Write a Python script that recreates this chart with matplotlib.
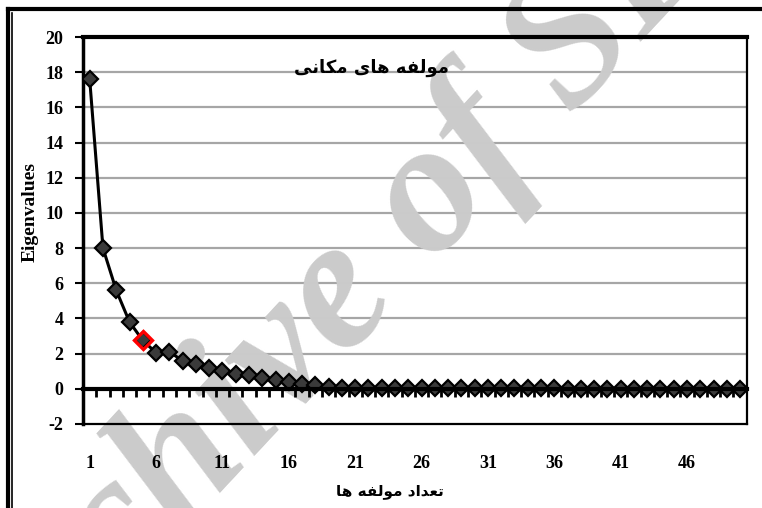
#!/usr/bin/env python3
"""
Scree plot of spatial components (eigenvalues per component)
"""

import matplotlib
matplotlib.use('Agg')
import matplotlib.pyplot as plt
from matplotlib.lines import Line2D

# Data
components = list(range(1, 51))
eigenvalues = [17.6, 8.0, 5.6, 3.8, 2.75, 2.05, 2.1, 1.6, 1.42, 1.17,
               1.04, 0.82, 0.76, 0.6, 0.48, 0.4, 0.3, 0.2, 0.12, 0.07,
               0.04, 0.03, 0.03, 0.03, 0.03, 0.02, 0.02, 0.02, 0.02, 0.02,
               0.02, 0.02, 0.02, 0.02, 0.02, 0.02, 0.01, 0.01, 0.01, 0.01,
               0.01, 0.01, 0.01, 0.01, 0.01, 0.01, 0.01, 0.01, 0.01, 0.01]
highlight = 5  # cut-off component shown in red
x_ticks = list(range(1, 50, 5))
y_ticks = list(range(-2, 21, 2))

title_text = "مولفه های مکانی"
xlabel_text = "تعداد مولفه ها"
ylabel_text = "Eigenvalues"
watermark_text = "Archive of SID"

# Arabic shaping (matplotlib has no text shaping of its own)
FORMS = {
    'ا': ('\uFE8D', '\uFE8E'), 'د': ('\uFEA9', '\uFEAA'), 'و': ('\uFEED', '\uFEEE'),
    'ت': ('\uFE95', '\uFE96', '\uFE97', '\uFE98'),
    'ع': ('\uFEC9', '\uFECA', '\uFECB', '\uFECC'),
    'م': ('\uFEE1', '\uFEE2', '\uFEE3', '\uFEE4'),
    'ل': ('\uFEDD', '\uFEDE', '\uFEDF', '\uFEE0'),
    'ف': ('\uFED1', '\uFED2', '\uFED3', '\uFED4'),
    'ه': ('\uFEE9', '\uFEEA', '\uFEEB', '\uFEEC'),
    'ن': ('\uFEE5', '\uFEE6', '\uFEE7', '\uFEE8'),
    'ی': ('\uFBFC', '\uFBFD', '\uFBFE', '\uFBFF'),
    'ک': ('\uFB8E', '\uFB8F', '\uFB90', '\uFB91'),
}


def shape(text):
    out = []
    for i, ch in enumerate(text):
        if ch not in FORMS:
            out.append(ch)
            continue
        prev = text[i - 1] if i > 0 else ''
        nxt = text[i + 1] if i + 1 < len(text) else ''
        join_prev = prev in FORMS and len(FORMS[prev]) == 4
        join_next = len(FORMS[ch]) == 4 and nxt in FORMS
        f = FORMS[ch]
        if join_prev and join_next:
            out.append(f[3])
        elif join_prev:
            out.append(f[1])
        elif join_next:
            out.append(f[2])
        else:
            out.append(f[0])
    return ''.join(out)[::-1]


fig = plt.figure(figsize=(7.62, 5.08), dpi=100)
ax = fig.add_axes([0.109, 0.1654, 0.871, 0.7616])

serif = 'Liberation Serif'

# grid
for y in y_ticks:
    if y not in (-2, 0, 20):
        ax.axhline(y, color='#a6a6a6', lw=1.6, zorder=0)

# watermark
ax.text(0.468, 0.43, watermark_text, transform=fig.transFigure, fontsize=135,
        family=serif, style='italic', fontweight='bold', color='#cbcbcb',
        rotation=47, ha='center', va='center', zorder=0.5, clip_on=False)

ax.plot(components, eigenvalues, color='black', lw=2.2, marker='D', ms=8,
        mfc='#3a3a3a', mec='black', mew=1.6, zorder=3)
ax.plot(components[highlight - 1], eigenvalues[highlight - 1], marker='D', ms=9,
        mfc='none', mec='#ff0000', mew=2.4, ls='none', zorder=4)

ax.set_xlim(0.5, len(components) + 0.5)
ax.set_ylim(-2, 20)
ax.set_yticks(y_ticks)
ax.set_yticklabels([str(v) for v in y_ticks], family=serif, fontweight='bold', fontsize=13)
ax.set_xticks(x_ticks)
ax.set_xticklabels([str(v) for v in x_ticks], family=serif, fontweight='bold', fontsize=13)
ax.tick_params(axis='x', length=0, pad=22)
ax.tick_params(axis='y', length=6, width=1.5, direction='out', pad=8)

for side in ['top', 'bottom', 'right']:
    ax.spines[side].set_linewidth(1.6)
ax.spines['left'].set_linewidth(2.5)
ax.spines['top'].set_linewidth(3)

# category axis crossing at zero
zero_axis = ax.secondary_xaxis(2 / 22)
zero_axis.set_zorder(5)
zero_axis.spines['bottom'].set_linewidth(3)
zero_axis.set_xticks([c + 0.5 for c in components[:-1]])
zero_axis.set_xticklabels([])
zero_axis.tick_params(length=6, width=2, direction='out')

fig.text(0.040, 0.583, ylabel_text, rotation=90, ha='center', va='center',
         family=serif, fontweight='bold', fontsize=14)
ax.text(0.435, 0.945, shape(title_text), transform=ax.transAxes, ha='center', va='top',
        family='DejaVu Sans', fontweight='bold', fontsize=13, zorder=5)
fig.text(0.512, 0.033, shape(xlabel_text), ha='center', va='center',
         family='DejaVu Sans', fontweight='bold', fontsize=11)

# outer frame of the chart
fig.add_artist(Line2D([0.011, 1.0], [0.982, 0.982], transform=fig.transFigure, color='black', lw=3))
fig.add_artist(Line2D([0.011, 0.011], [0.0, 0.982], transform=fig.transFigure, color='black', lw=3))
fig.add_artist(Line2D([0.016, 0.016], [0.0, 0.974], transform=fig.transFigure, color='black', lw=1.2))

plt.savefig('out.png', dpi=100)
